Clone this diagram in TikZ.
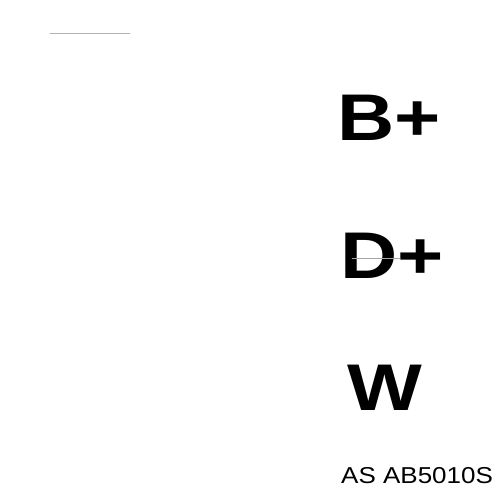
\documentclass[tikz,border=0pt]{standalone}
\usepackage{fontspec}
\setmainfont{Liberation Sans}
\begin{document}
\begin{tikzpicture}[x=1pt,y=-1pt,line cap=round,
		pin/.style={anchor=base west,inner sep=0pt,xscale=1.2,font=\fontsize{66}{70}\selectfont\bfseries},
		part/.style={anchor=base west,inner sep=0pt,xscale=1.13,font=\fontsize{23}{26}\selectfont}]
	\useasboundingbox[fill=white] (0,0) rectangle (500,500);
	\draw[gray!60,line width=0.8pt] (50,33)--(130,33);
	\node[pin] (bplus) at (337,140) {B+};
	\node[pin] (dplus) at (340,278) {D+};
	\node[pin] (w) at (347,410) {W};
	\draw[gray!70,line width=0.5pt] (352,258)--(400,258);
	\node[part] (code) at (341,483) {AS AB5010S};
\end{tikzpicture}
\end{document}
